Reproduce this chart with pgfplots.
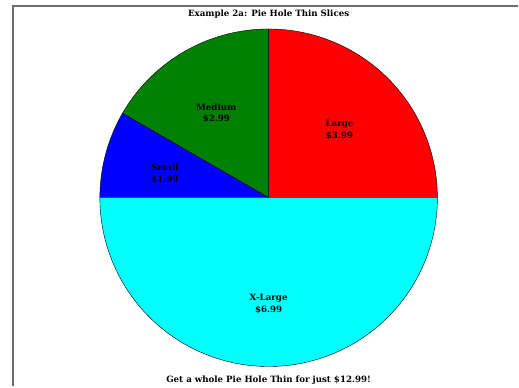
\documentclass[border=0pt]{standalone}
\usepackage{fontspec}
\setmainfont{DejaVu Serif}
\usepackage{pgfplots}
\pgfplotsset{compat=1.18}
% slice sizes (units of the pie) and prices
\def\vL{3}\def\vM{2}\def\vS{1}\def\vX{6}
\pgfmathsetmacro{\tot}{\vL+\vM+\vS+\vX}
\pgfmathsetmacro{\aA}{0}
\pgfmathsetmacro{\aB}{\aA+360*\vL/\tot}
\pgfmathsetmacro{\aC}{\aB+360*\vM/\tot}
\pgfmathsetmacro{\aD}{\aC+360*\vS/\tot}
\pgfmathsetmacro{\aE}{\aD+360*\vX/\tot}
\definecolor{frame}{RGB}{110,110,110}
\definecolor{pred}{RGB}{255,0,0}
\definecolor{pgreen}{RGB}{0,128,0}
\definecolor{pblue}{RGB}{0,0,255}
\definecolor{pcyan}{RGB}{0,255,255}
\tikzset{lbl/.style={font=\fontsize{8.7}{12}\selectfont\bfseries, align=center, inner sep=0pt}}
\begin{document}
\begin{tikzpicture}
\begin{axis}[
  width=519bp, height=387bp, scale only axis,
  xmin=-1.5917, xmax=1.4793, ymin=-1.1183, ymax=1.1716,
  hide axis, clip=false,
  trig format plots=deg,
]
\path (rel axis cs:0,0) (rel axis cs:1,1);
\draw[frame, line width=1.4bp] (axis cs:-1.515,-1.1183) -- (axis cs:-1.515,1.136) -- (axis cs:1.4793,1.136);
\addplot[fill=pred, draw=black, line width=0.4pt, domain=\aA:\aB, samples=90, variable=\t] ({cos(t)},{sin(t)}) -- (axis cs:0,0) -- cycle;
\addplot[fill=pgreen, draw=black, line width=0.4pt, domain=\aB:\aC, samples=60, variable=\t] ({cos(t)},{sin(t)}) -- (axis cs:0,0) -- cycle;
\addplot[fill=pblue, draw=black, line width=0.4pt, domain=\aC:\aD, samples=30, variable=\t] ({cos(t)},{sin(t)}) -- (axis cs:0,0) -- cycle;
\addplot[fill=pcyan, draw=black, line width=0.4pt, domain=\aD:\aE, samples=180, variable=\t] ({cos(t)},{sin(t)}) -- (axis cs:0,0) -- cycle;
\node[lbl] at (axis cs:0.42,0.40) {Large\\\$3.99};
\node[lbl] at (axis cs:-0.31,0.50) {Medium\\\$2.99};
\node[lbl] at (axis cs:-0.615,0.14) {Small\\\$1.99};
\node[lbl] at (axis cs:0,-0.63) {X-Large\\\$6.99};
\node[lbl] at (axis cs:0,1.089) {Example 2a: Pie Hole Thin Slices};
\node[lbl] at (axis cs:0,-1.083) {Get a whole Pie Hole Thin for just \$12.99!};
\end{axis}
\end{tikzpicture}
\end{document}
